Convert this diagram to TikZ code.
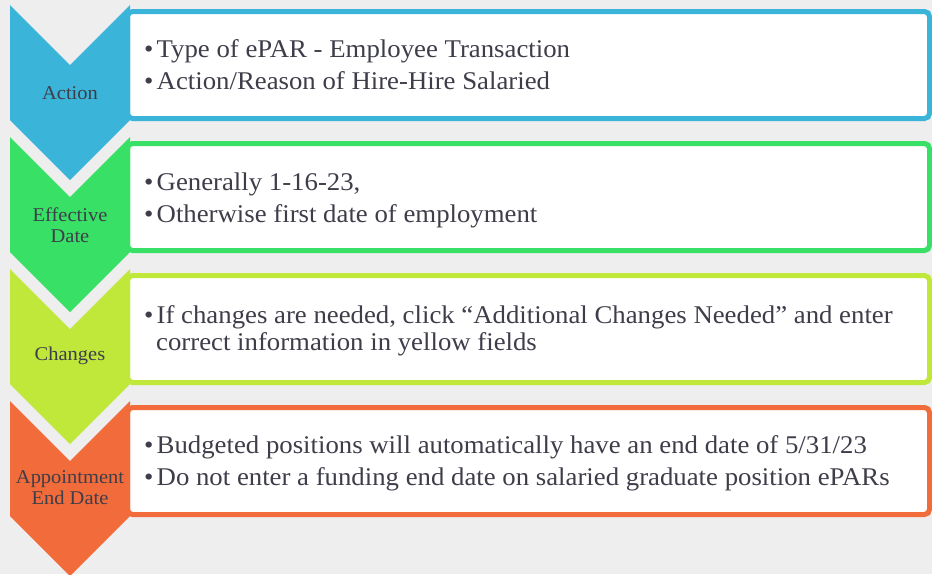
\documentclass[tikz,border=0pt]{standalone}
\usepackage{fontspec}
\setmainfont[FakeStretch=1.05]{Liberation Serif}
\definecolor{bgcol}{HTML}{EEEEEE}
\definecolor{txtcol}{HTML}{3E3E4A}
\definecolor{cblue}{HTML}{3AB4D8}
\definecolor{cgreen}{HTML}{38E065}
\definecolor{clime}{HTML}{BFE83A}
\definecolor{corange}{HTML}{F26B3A}
\tikzset{
  panel/.style={draw=#1, line width=5pt, fill=white, rounded corners=5pt},
  chev/.style={fill=#1},
  steplabel/.style={text=txtcol, font=\fontsize{19.5}{21}\selectfont, align=center, inner sep=0pt},
  itemtext/.style={text=txtcol, font=\fontsize{25.5}{27}\selectfont, anchor=base west, inner sep=0pt},
}
\newcommand{\bul}{\makebox[12.5pt][l]{•}}
\begin{document}
\begin{tikzpicture}[x=1pt,y=-1pt]
\useasboundingbox (0,0) rectangle (932,574);
\fill[bgcol] (0,0) rectangle (932,574);

% panels behind the chevrons
\foreach \c [count=\i from 0] in {cblue,cgreen,clime,corange}{
  \pgfmathsetmacro{\dy}{132*\i}
  \draw[panel=\c] (127.5,11.5+\dy) rectangle (929.5,118.5+\dy);
}
% chevrons
\foreach \c [count=\i from 0] in {cblue,cgreen,clime,corange}{
  \pgfmathsetmacro{\dy}{132*\i}
  \fill[chev=\c] (10,5+\dy) -- (70,65+\dy) -- (130,5+\dy) -- (130,120+\dy)
     -- (70,180+\dy) -- (10,120+\dy) -- cycle;
}

% step labels
\node[steplabel] (l1) at (70,93) {Action};
\node[steplabel] (l2) at (70,225) {Effective\\Date};
\node[steplabel] (l3) at (70,356) {Changes};
\node[steplabel] (l4) at (70,488) {Appointment\\End Date};

% panel texts
\node[itemtext] (a1) at (144,57) {\bul Type of ePAR - Employee Transaction};
\node[itemtext] (a2) at (144,89) {\bul Action/Reason of Hire-Hire Salaried};
\node[itemtext] (b1) at (144,190) {\bul Generally 1-16-23,};
\node[itemtext] (b2) at (144,222) {\bul Otherwise first date of employment};
\node[itemtext] (c1) at (144,323) {\bul If changes are needed, click “Additional Changes Needed” and enter};
\node[itemtext] (c2) at (156,350) {correct information in yellow fields};
\node[itemtext] (d1) at (144,453) {\bul Budgeted positions will automatically have an end date of 5/31/23};
\node[itemtext] (d2) at (144,485) {\bul Do not enter a funding end date on salaried graduate position ePARs};
\end{tikzpicture}
\end{document}
